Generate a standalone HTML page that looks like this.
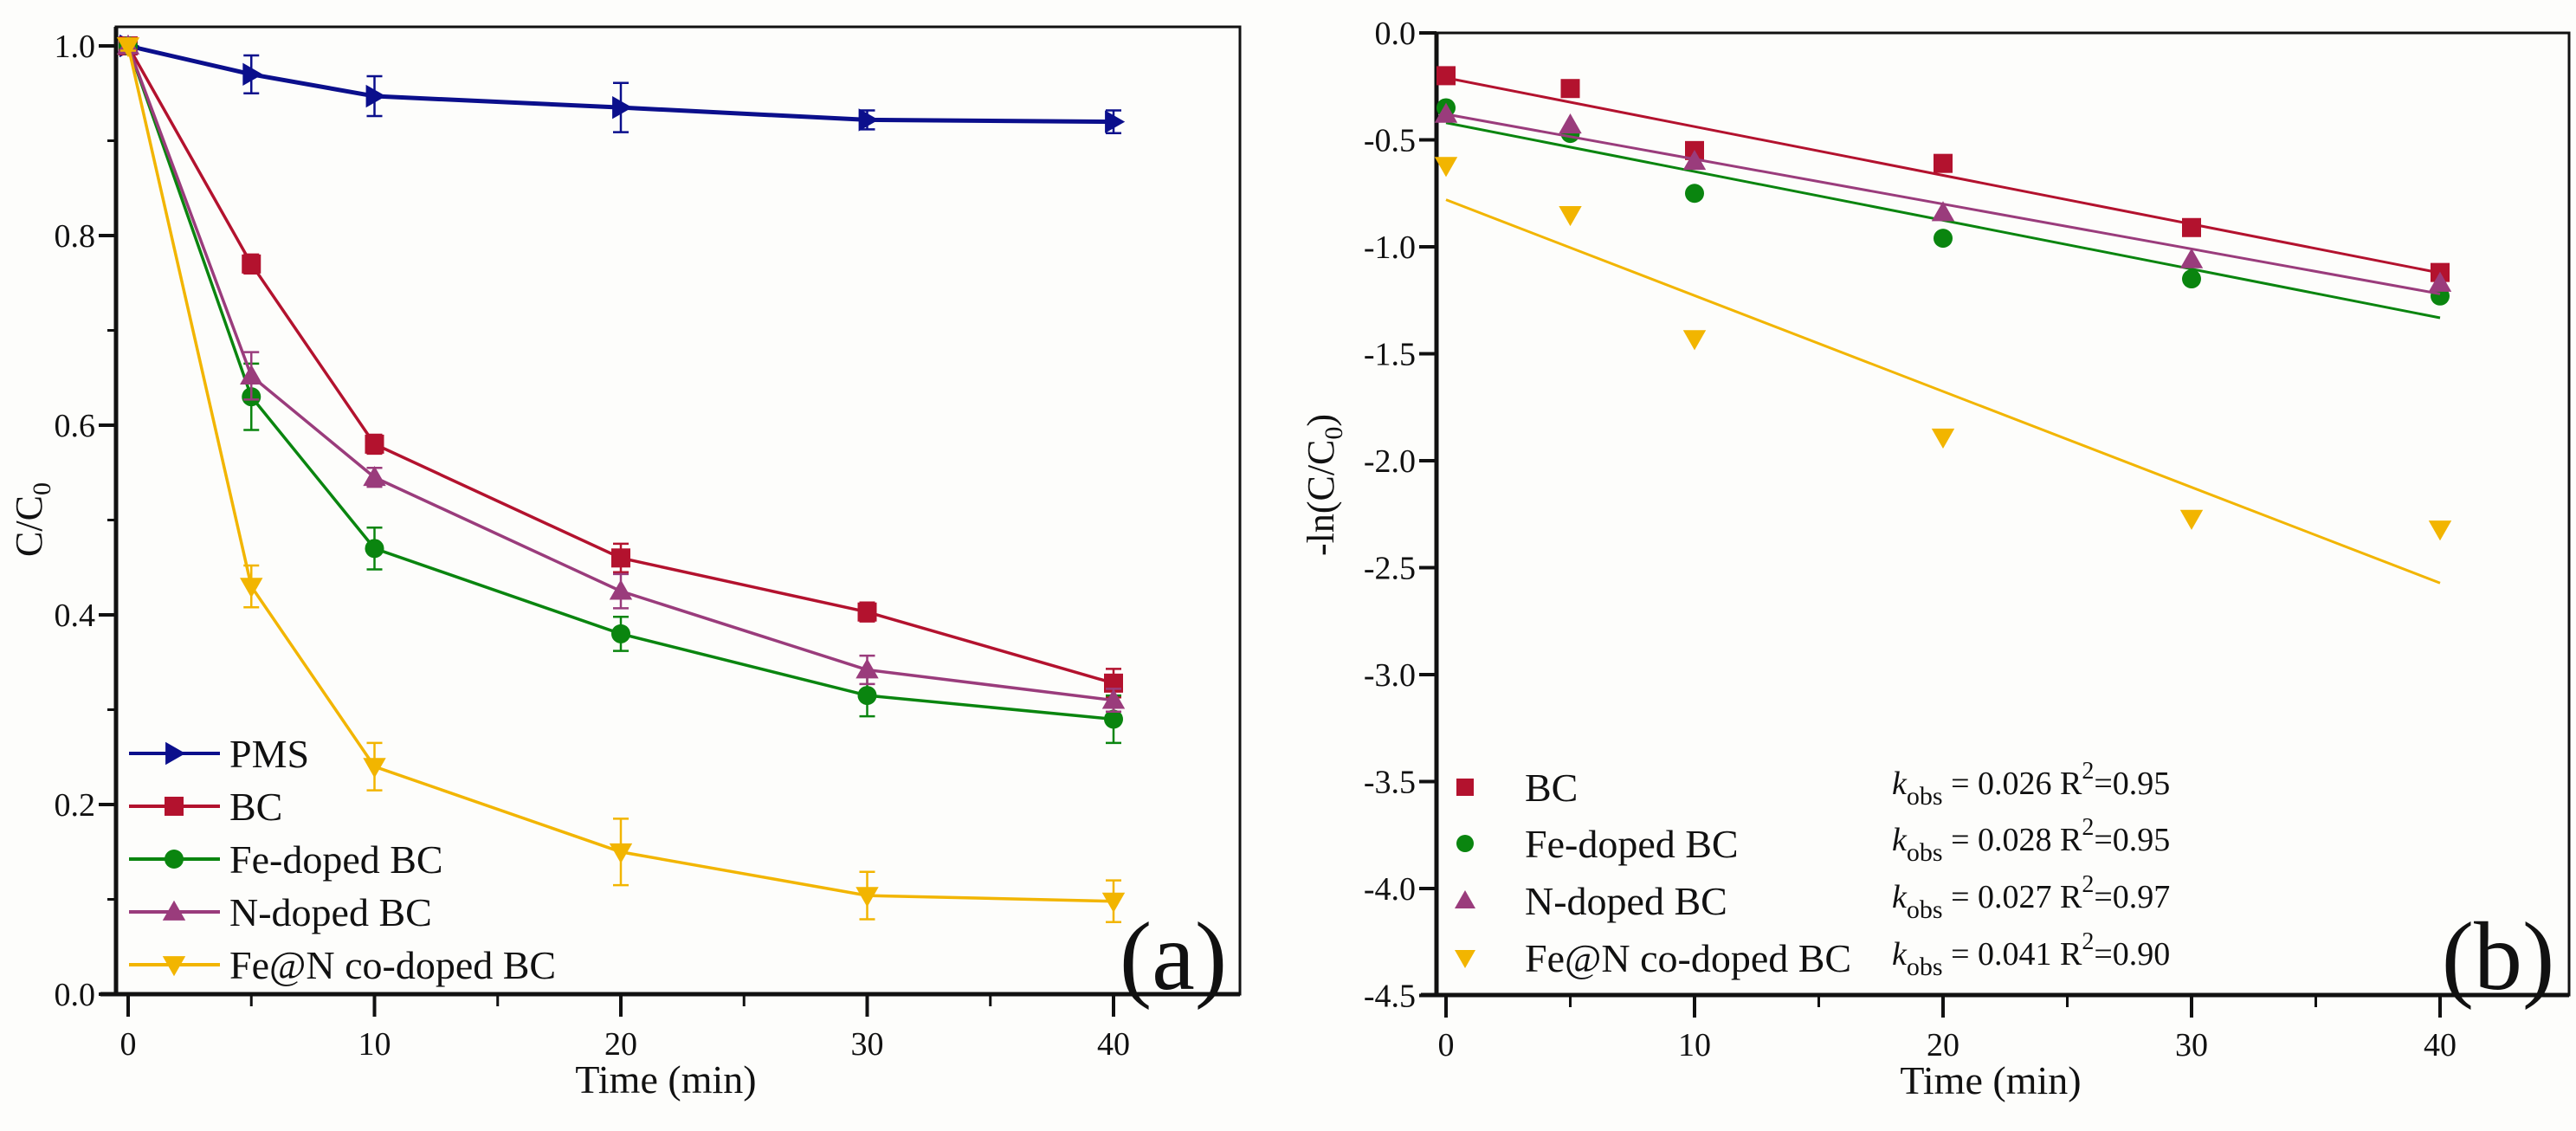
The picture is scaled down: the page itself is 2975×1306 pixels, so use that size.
<!DOCTYPE html>
<html><head><meta charset="utf-8"><style>
html,body{margin:0;padding:0;background:#fdfdfb;}
svg{display:block;font-family:"Liberation Serif",serif;}
</style></head><body>
<svg id="fig" width="2975" height="1306" viewBox="0 0 2975 1306" xmlns="http://www.w3.org/2000/svg">
<rect x="0" y="0" width="2975" height="1306" fill="#fdfdfb"/>
<g id="pa"></g>
<g id="pb"></g>
</svg>
<script>
const times = [0,5,10,20,30,40];
const seriesNames = ["PMS","BC","Fe-doped BC","N-doped BC","Fe@N co-doped BC"];
const pmsVals = [1.0,0.97,0.947,0.935,0.922,0.92];
const bcVals = [1.0,0.77,0.58,0.46,0.403,0.328];
const feVals = [1.0,0.63,0.47,0.38,0.315,0.29];
const nVals = [1.0,0.652,0.545,0.425,0.342,0.31];
const fenVals = [1.0,0.43,0.24,0.15,0.104,0.098];
const pmsErr = [0.005,0.02,0.021,0.026,0.01,0.012];
const bcErr = [0.005,0.01,0.01,0.015,0.01,0.015];
const feErr = [0.005,0.035,0.022,0.018,0.022,0.025];
const nErr = [0.005,0.025,0.01,0.018,0.015,0.012];
const fenErr = [0.005,0.022,0.025,0.035,0.025,0.022];
const lnBC = [-0.2,-0.26,-0.55,-0.61,-0.91,-1.12];
const lnFe = [-0.35,-0.47,-0.75,-0.96,-1.15,-1.23];
const lnN = [-0.38,-0.43,-0.6,-0.84,-1.06,-1.17];
const lnFeN = [-0.62,-0.85,-1.43,-1.89,-2.27,-2.32];
const fitIntercepts = [-0.21,-0.42,-0.38,-0.78];
const fitSlopes = [-0.0228,-0.0228,-0.021,-0.0448];
const kLabels = ["0.026","0.028","0.027","0.041"];
const r2Labels = ["0.95","0.95","0.97","0.90"];
const yTicksA = [0,0.2,0.4,0.6,0.8,1.0];
const yTickLabelsA = ["0.0","0.2","0.4","0.6","0.8","1.0"];
const yTicksB = [0,-0.5,-1,-1.5,-2,-2.5,-3,-3.5,-4,-4.5];
const yTickLabelsB = ["0.0","-0.5","-1.0","-1.5","-2.0","-2.5","-3.0","-3.5","-4.0","-4.5"];
const xTicks = [0,10,20,30,40];
const xTickLabels = ["0","10","20","30","40"];

const colors = ["#0b0f8c","#b3122e","#0a850f","#9a3c7c","#f2b500"];
const markers = ["right","square","circle","up","down"];
const NS="http://www.w3.org/2000/svg";
function mk(parent,tag,attrs){const e=document.createElementNS(NS,tag);for(const k in attrs)e.setAttribute(k,attrs[k]);parent.appendChild(e);return e;}
function marker(g,type,cx,cy,s,col){
  let e;
  if(type==="square") e=mk(g,"rect",{x:cx-s/2,y:cy-s/2,width:s,height:s,fill:col});
  else if(type==="circle") e=mk(g,"circle",{cx:cx,cy:cy,r:s/2,fill:col});
  else if(type==="up") e=mk(g,"polygon",{points:`${cx},${cy-s*0.6} ${cx-s*0.6},${cy+s*0.45} ${cx+s*0.6},${cy+s*0.45}`,fill:col});
  else if(type==="down") e=mk(g,"polygon",{points:`${cx},${cy+s*0.6} ${cx-s*0.6},${cy-s*0.45} ${cx+s*0.6},${cy-s*0.45}`,fill:col});
  else e=mk(g,"polygon",{points:`${cx+s*0.6},${cy} ${cx-s*0.45},${cy-s*0.6} ${cx-s*0.45},${cy+s*0.6}`,fill:col});
  return e;
}
function txt(g,x,y,s,size,anchor,extra){const t=mk(g,"text",Object.assign({x:x,y:y,"font-size":size,"text-anchor":anchor||"start",fill:"#111"},extra||{}));t.textContent=s;return t;}

function axes(g,L,R,T,B,X,Y,yt,ytl,minorY,xAxisY){
  mk(g,"rect",{x:L,y:T,width:R-L,height:B-T,fill:"none",stroke:"#111","stroke-width":3});
  const ax=mk(g,"line",{x1:L-18,x2:R,y1:xAxisY,y2:xAxisY,stroke:"#111","stroke-width":5});
  
  
  mk(g,"line",{x1:L,x2:L,y1:T,y2:B,stroke:"#111","stroke-width":5});
  yt.forEach((v,i)=>{
    const y=Y(v);
    mk(g,"line",{x1:L-20,x2:L,y1:y,y2:y,stroke:"#111","stroke-width":4});
    const t=txt(g,L-24,y+13,ytl[i],38,"end");
    
    
  });
  minorY.forEach(v=>{const y=Y(v);mk(g,"line",{x1:L-10,x2:L,y1:y,y2:y,stroke:"#111","stroke-width":3});});
  xTicks.forEach((v,i)=>{
    const x=X(v);
    mk(g,"line",{x1:x,x2:x,y1:xAxisY,y2:xAxisY+26,stroke:"#111","stroke-width":4});
    const t=txt(g,x,xAxisY+70,xTickLabels[i],38,"middle");
    
    
  });
  [5,15,25,35].forEach(v=>{const x=X(v);mk(g,"line",{x1:x,x2:x,y1:xAxisY,y2:xAxisY+14,stroke:"#111","stroke-width":3});});
  const xt=txt(g,(L+R)/2-14,xAxisY+114,"Time (min)",46,"middle");
  
  
}

// Panel A
(function(){
  const g=document.getElementById("pa");
  const L=134,R=1432,T=31,B=1148;
  const X=v=>148+(v-0)*28.45, Y=v=>1148-v*1095;
  axes(g,L,R,T,B,X,Y,yTicksA,yTickLabelsA,[0.1,0.3,0.5,0.7,0.9],1148);
  const yl=txt(g,0,0,"C/C",44,"middle",{transform:"translate(48,600) rotate(-90)"});
  const sub=mk(yl,"tspan",{"font-size":30,dy:10});sub.textContent="0";
  
  
  const all=[pmsVals,bcVals,feVals,nVals,fenVals];
  const errs=[pmsErr,bcErr,feErr,nErr,fenErr];
  all.forEach((vals,si)=>{
    const sg=mk(g,"g",{});
    
    
    vals.forEach((v,i)=>{
      const x=X(times[i]),e=errs[si][i];
      mk(sg,"line",{x1:x,x2:x,y1:Y(v+e),y2:Y(v-e),stroke:colors[si],"stroke-width":2.5});
      mk(sg,"line",{x1:x-9,x2:x+9,y1:Y(v+e),y2:Y(v+e),stroke:colors[si],"stroke-width":2.5});
      mk(sg,"line",{x1:x-9,x2:x+9,y1:Y(v-e),y2:Y(v-e),stroke:colors[si],"stroke-width":2.5});
    });
    mk(sg,"polyline",{points:vals.map((v,i)=>X(times[i])+","+Y(v)).join(" "),fill:"none",stroke:colors[si],"stroke-width":si===0?5:3.5});
    vals.forEach((v,i)=>{
      const m=marker(sg,markers[si],X(times[i]),Y(v),22,colors[si]);
      
      
    });
  });
  const lg=mk(g,"g",{});
  
  
  seriesNames.forEach((n,i)=>{
    const y=870+i*61;
    mk(lg,"line",{x1:149,x2:254,y1:y,y2:y,stroke:colors[i],"stroke-width":4});
    marker(lg,markers[i],201,y,22,colors[i]);
    const t=txt(lg,265,y+16,n,46,"start");
    
    
  });
  const lab=txt(g,1355,1142,"(a)",112,"middle");
  
  
})();

// Panel B
(function(){
  const g=document.getElementById("pb");
  const L=1659,R=2967,T=38,B=1149;
  const X=v=>1670+v*28.7, Y=v=>38-v*247;
  axes(g,L,R,T,B,X,Y,yTicksB,yTickLabelsB,[],1149);
  const yl=txt(g,0,0,"-ln(C/C",44,"middle",{transform:"translate(1540,560) rotate(-90)"});
  const sub=mk(yl,"tspan",{"font-size":30,dy:10});sub.textContent="0";
  const cl=mk(yl,"tspan",{"font-size":44,dy:-10});cl.textContent=")";
  
  
  const all=[lnBC,lnFe,lnN,lnFeN];
  all.forEach((vals,si)=>{
    const ci=si+1;
    const sg=mk(g,"g",{});
    
    
    const fl=mk(sg,"line",{x1:X(0),x2:X(40),y1:Y(fitIntercepts[si]),y2:Y(fitIntercepts[si]+fitSlopes[si]*40),stroke:colors[ci],"stroke-width":3});
    
    
    vals.forEach((v,i)=>{
      const m=marker(sg,markers[ci],X(times[i]),Y(v),22,colors[ci]);
      
      
    });
  });
  const lg=mk(g,"g",{});
  
  
  const rows=[909,974,1040,1106];
  rows.forEach((y,i)=>{
    const ci=i+1;
    marker(lg,markers[ci],1692,y,20,colors[ci]);
    const t=txt(lg,1761,y+16,seriesNames[ci],46,"start");
    
    
    const k=txt(lg,2185,y+8,"",38,"start");
    const k1=mk(k,"tspan",{"font-style":"italic"});k1.textContent="k";
    const k2=mk(k,"tspan",{"font-size":30,dy:12});k2.textContent="obs";
    const k3=mk(k,"tspan",{dy:-12});k3.textContent=" = "+kLabels[i]+"  R";
    const k4=mk(k,"tspan",{"font-size":28,dy:-18});k4.textContent="2";
    const k5=mk(k,"tspan",{dy:18});k5.textContent="="+r2Labels[i];
    
    
  });
  const lab=txt(g,2885,1142,"(b)",112,"middle");
  
  
})();
</script>
</body></html>
